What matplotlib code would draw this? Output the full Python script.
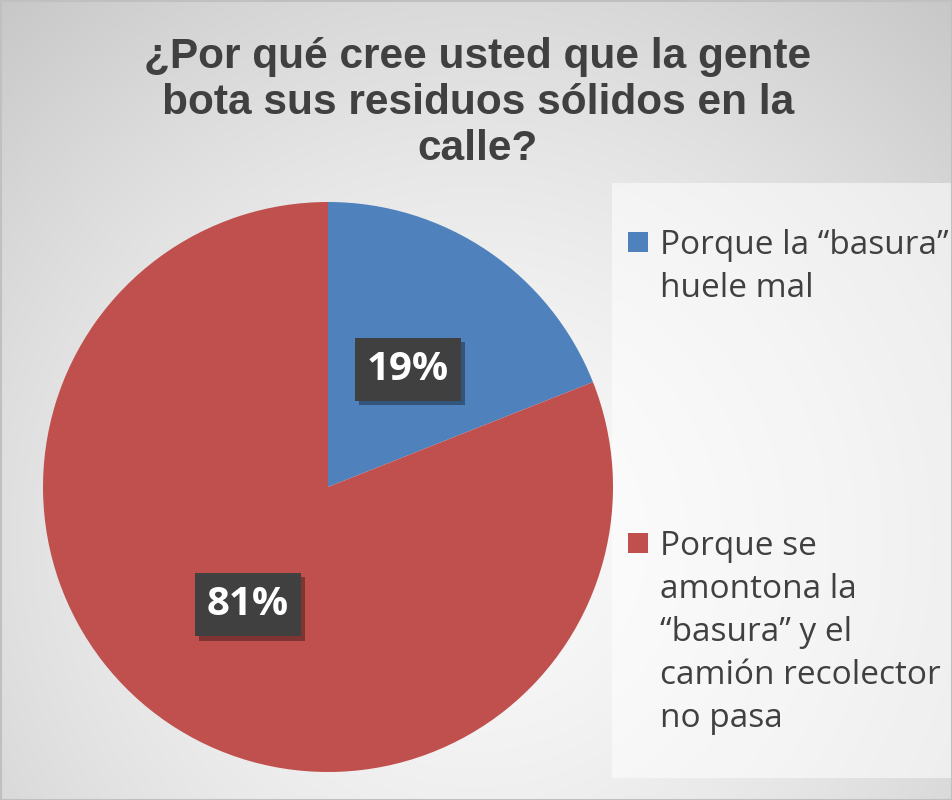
import numpy as np
import matplotlib
matplotlib.use("Agg")
import matplotlib.pyplot as plt
from matplotlib.patches import Rectangle
import matplotlib.patheffects as pe

title = "¿Por qué cree usted que la gente\nbota sus residuos sólidos en la\ncalle?"
labels = ["Porque la “basura”\nhuele mal",
          "Porque se\namontona la\n“basura” y el\ncamión recolector\nno pasa"]
values = [19, 81]
colors = ["#4F81BD", "#C0504D"]

W, H = 953, 800
fig = plt.figure(figsize=(W / 100, H / 100), dpi=100)

# background radial gradient
bg = fig.add_axes([0, 0, 1, 1])
yy, xx = np.mgrid[0:H, 0:W]
d = np.sqrt((xx - 476) ** 2 + (yy - 540) ** 2) / 720.0
v = 249 - 50 * d ** 1.6
v = np.clip(v, 195, 250) / 255.0
bg.imshow(np.dstack([v, v, v]), extent=[0, W, 0, H], origin="upper", aspect="auto")
bg.set_xlim(0, W)
bg.set_ylim(0, H)
bg.axis("off")
# legend panel
bg.add_patch(Rectangle((612, H - 778), W - 612, 778 - 183, facecolor="white",
                       alpha=0.55, edgecolor="none"))
# frame border
bg.add_patch(Rectangle((0.5, 0.5), W - 1, H - 1, facecolor="none",
                       edgecolor="#c0c0c0", lw=1.5))

# pie
cx, cy, r = 328, 487, 285
ax = fig.add_axes([(cx - r) / W, (H - cy - r) / H, 2 * r / W, 2 * r / H])
wedges, texts, autotexts = ax.pie(values, colors=colors, startangle=90, counterclock=False,
                                  autopct=lambda p: f"{p:.0f}%", pctdistance=0.5,
                                  radius=1, wedgeprops=dict(linewidth=0))
for t in autotexts:
    t.set_fontfamily("Open Sans")
    t.set_fontweight("bold")
    t.set_fontsize(29)
    t.set_color("white")
    t.set_bbox(dict(boxstyle="square,pad=0.3", facecolor="#404040", edgecolor="none"))
    t.get_bbox_patch().set_path_effects([
        pe.SimplePatchShadow(offset=(3, -3), shadow_rgbFace="black", alpha=0.35),
        pe.Normal()])
ax.set_xlim(-1, 1)
ax.set_ylim(-1, 1)
ax.set_aspect("equal")
ax.axis("off")

# title
fig.text(478 / W, 1 - 37 / H, title, ha="center", va="top", fontsize=30.5,
         fontweight="bold", fontfamily="Liberation Sans", color="#404040",
         linespacing=1.2)

# legend
leg_y = [242, 543]
for lab, col, y in zip(labels, colors, leg_y):
    bg.add_patch(Rectangle((628, H - y - 10), 20, 20, facecolor=col, edgecolor="none"))
    bg.text(660, H - y + 13, lab, ha="left", va="top",
            fontsize=24, fontfamily="Open Sans", color="#404040", linespacing=1.4,
            transform=bg.transData)

fig.savefig("out.png", dpi=100)
